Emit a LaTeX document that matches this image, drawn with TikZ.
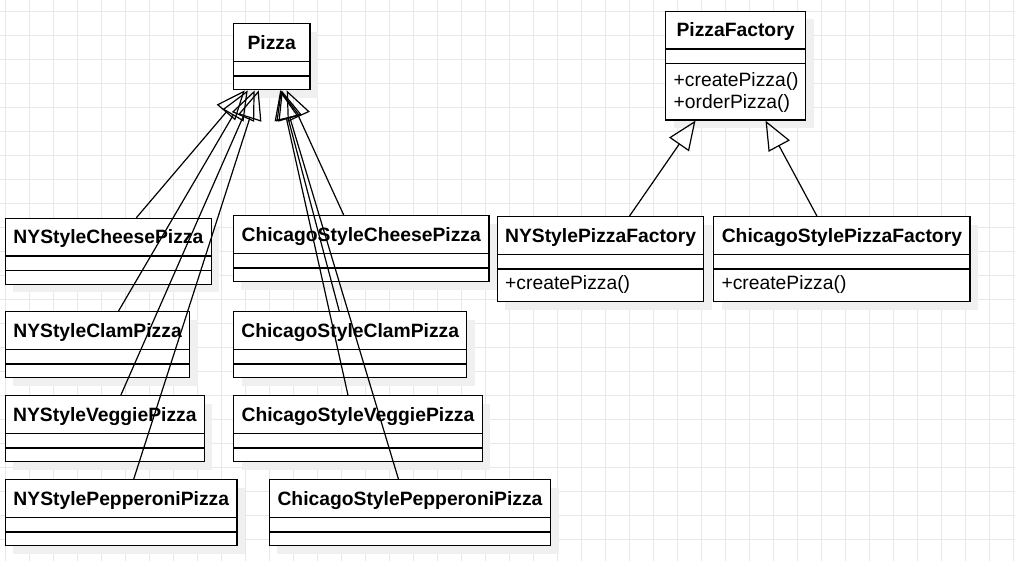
\documentclass[tikz,border=0pt]{standalone}
\usepackage{fontspec}
\setmainfont{Liberation Sans}
\usetikzlibrary{arrows.meta,shadows}

\newcommand\clsfont{\fontsize{19.3}{23}\selectfont\bfseries}
\newcommand\mthfont{\fontsize{19.3}{23}\selectfont}

\tikzset{
  gridline/.style={line width=0.6pt, black!9},
  umlclass/.style={draw, line width=1.4pt, fill=white, anchor=north west,
    inner ysep=0pt, text height=25.4pt, text depth=40.6pt, font=\clsfont,
    drop shadow={shadow xshift=8pt, shadow yshift=-8pt, fill=black!6, opacity=1},
    path picture={
      \draw[line width=1.2pt] ([yshift=-37.7pt]path picture bounding box.north west) -- ([yshift=-37.7pt]path picture bounding box.north east);
      \draw[line width=1.2pt] ([yshift=-52.3pt]path picture bounding box.north west) -- ([yshift=-52.3pt]path picture bounding box.north east);
    }},
  method/.style={anchor=base west, inner sep=0pt, font=\mthfont},
  erbt/.style={line width=1.2pt, -{Triangle[open,length=29pt,width=24pt]}},
}

\begin{document}
\begin{tikzpicture}[x=1pt,y=-1pt]
    \useasboundingbox (0,0) rectangle (1015,561);
    % Raster:
    \begin{scope}
        \clip (0,0) rectangle (1015,561);
        \draw[gridline, step=24pt, xshift=5.3pt, yshift=-11.3pt] (-24,-24) grid (1040,580);
    \end{scope}
    % Pizza-Klassen:
    \node[umlclass, minimum width=76.6pt] (pizza) at (232.7,23) {Pizza};
    \node[umlclass, minimum width=206pt] (nycheese) at (4.7,217.7) {NYStyleCheesePizza};
    \node[umlclass, minimum width=255.6pt] (chicheese) at (232.7,215) {ChicagoStyleCheesePizza};
    \node[umlclass, minimum width=184.3pt] (nyclam) at (4.7,311) {NYStyleClamPizza};
    \node[umlclass, minimum width=233pt] (chiclam) at (233,311) {ChicagoStyleClamPizza};
    \node[umlclass, minimum width=199pt] (nyveggie) at (4.7,395) {NYStyleVeggiePizza};
    \node[umlclass, minimum width=248.5pt] (chiveggie) at (233,395) {ChicagoStyleVeggiePizza};
    \node[umlclass, minimum width=231.7pt] (nypepperoni) at (4.7,479) {NYStylePepperoniPizza};
    \node[umlclass, minimum width=281.4pt] (chipepperoni) at (268.6,479) {ChicagoStylePepperoniPizza};
    % Fabriken:
    \node[umlclass, minimum width=140pt, text depth=83.1pt] (pizzafactory) at (664.8,10.7) {PizzaFactory};
    \node[method] (pfcreate) at ([xshift=8.7pt,yshift=-75.7pt]pizzafactory.north west) {+createPizza()};
    \node[method] (pforder) at ([xshift=8.7pt,yshift=-98.1pt]pizzafactory.north west) {+orderPizza()};
    \node[umlclass, minimum width=206.3pt, text depth=59.6pt] (nyfactory) at (496.7,216) {NYStylePizzaFactory};
    \node[method] (nycreate) at ([xshift=8.3pt,yshift=-74pt]nyfactory.north west) {+createPizza()};
    \node[umlclass, minimum width=256.4pt, text depth=59.6pt] (chifactory) at (713,216) {ChicagoStylePizzaFactory};
    \node[method] (chicreate) at ([xshift=8.3pt,yshift=-74pt]chifactory.north west) {+createPizza()};
    % Vererbung:
    \draw[erbt] ([xshift=28pt]nycheese.north) -- ([xshift=-27pt]pizza.south);
    \draw[erbt] ([xshift=21pt]nyclam.north) -- ([xshift=-24pt]pizza.south);
    \draw[erbt] ([xshift=16pt]nyveggie.north) -- ([xshift=-17pt]pizza.south);
    \draw[erbt] ([xshift=12.5pt]nypepperoni.north) -- ([xshift=-13pt]pizza.south);
    \draw[erbt] ([xshift=-17.5pt]chicheese.north) -- ([xshift=15pt]pizza.south);
    \draw[erbt] ([xshift=-11pt]chiclam.north) -- ([xshift=9pt]pizza.south);
    \draw[erbt] ([xshift=-10pt]chiveggie.north) -- ([xshift=8.5pt]pizza.south);
    \draw[erbt] ([xshift=-11.6pt]chipepperoni.north) -- ([xshift=10pt]pizza.south);
    \draw[erbt] ([xshift=29pt]nyfactory.north) -- ([xshift=-40pt]pizzafactory.south);
    \draw[erbt] ([xshift=-25pt]chifactory.north) -- ([xshift=30pt]pizzafactory.south);
\end{tikzpicture}
\end{document}
